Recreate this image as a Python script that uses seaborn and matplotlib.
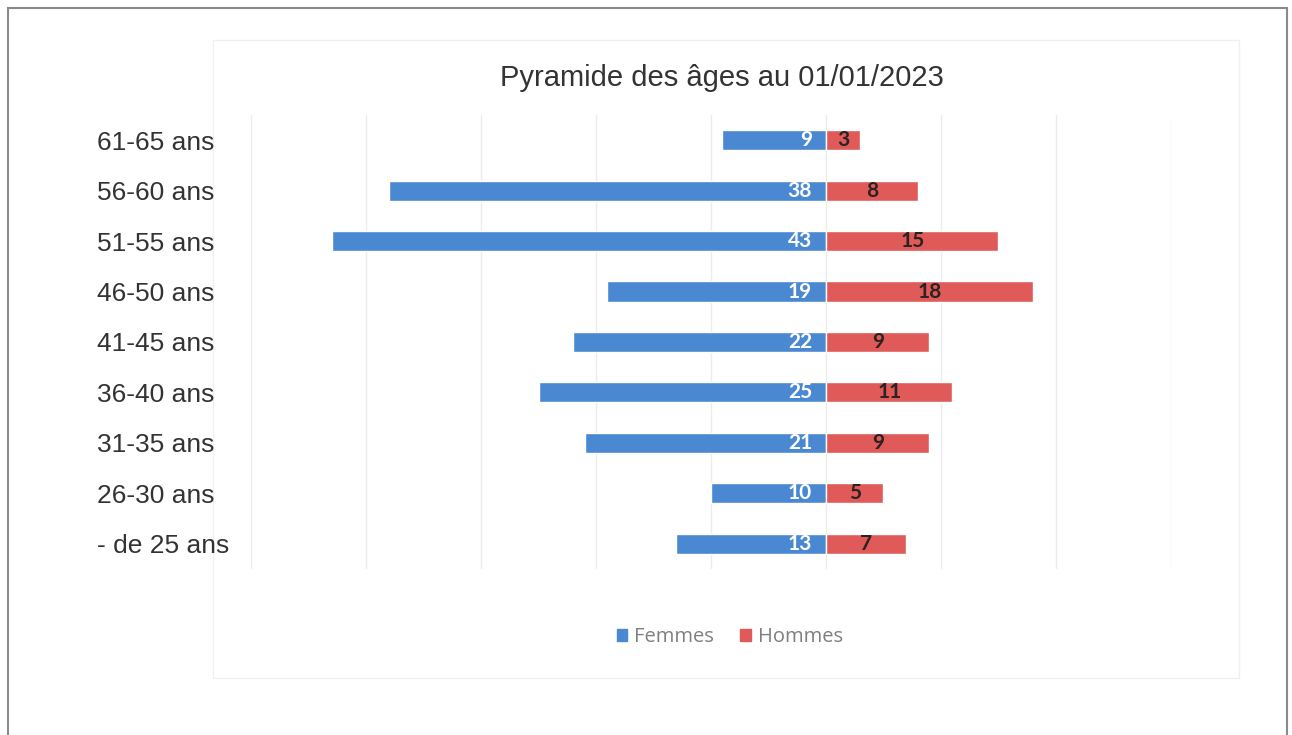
import seaborn as sns
import matplotlib
matplotlib.use('Agg')
import matplotlib.pyplot as plt
import pandas as pd
from matplotlib.patches import Patch, Rectangle

# data, top row first
age_groups = ['61-65 ans', '56-60 ans', '51-55 ans', '46-50 ans', '41-45 ans',
              '36-40 ans', '31-35 ans', '26-30 ans', '- de 25 ans']
femmes = [9, 38, 43, 19, 22, 25, 21, 10, 13]
hommes = [3, 8, 15, 18, 9, 11, 9, 5, 7]

blue = '#4a89d2'
red = '#df5a58'

sns.set_style('white')
plt.rcParams['font.family'] = ['Liberation Sans', 'DejaVu Sans']

df = pd.DataFrame({'Age': age_groups,
                   'Femmes': [-v for v in femmes],  # women to the left
                   'Hommes': hommes})

fig = plt.figure(figsize=(12.92, 7.35), dpi=100)
ax = fig.add_axes([0.1943, 0.2259, 0.7120, 0.6177])
ax.patch.set_alpha(0)  # let the faint chart box show behind

sns.barplot(data=df, x='Femmes', y='Age', order=age_groups, color=blue,
            width=0.4, orient='h', saturation=1, ax=ax)
sns.barplot(data=df, x='Hommes', y='Age', order=age_groups, color=red,
            width=0.4, orient='h', saturation=1, ax=ax)

ax.set_xlim(-50, 30)
ax.set_xticks(range(-50, 31, 10))
ax.set_xticklabels([])
ax.tick_params(axis='x', length=0)
ax.grid(axis='x', color='#ececec', linewidth=1)
ax.set_axisbelow(True)
for s in ax.spines.values():
    s.set_visible(False)
ax.set_xlabel('')
ax.set_ylabel('')

# category labels left aligned far out, like the excel chart
ax.tick_params(axis='y', length=0, pad=111, labelsize=19, labelcolor='#333333')
for lbl in ax.get_yticklabels():
    lbl.set_horizontalalignment('left')

# value labels: white at inner end for women, dark centered for men
for i, (f, h) in enumerate(zip(femmes, hommes)):
    ax.text(-1.2, i, str(f), ha='right', va='center', color='white',
            fontsize=15, fontweight='bold', family='Lato')
    ax.text(h / 2, i, str(h), ha='center', va='center', color='#2b2222',
            fontsize=15, fontweight='bold', family='Lato')

fig.text(0.559, 0.894, 'Pyramide des âges au 01/01/2023', ha='center', va='center',
         fontsize=21, color='#333333')

handles = [Patch(color=blue, label='Femmes'), Patch(color=red, label='Hommes')]
leg = fig.legend(handles=handles, loc='center', bbox_to_anchor=(0.565, 0.133), ncol=2,
                 frameon=False, handlelength=0.5, handleheight=0.55,
                 handletextpad=0.35, columnspacing=1.3,
                 prop={'family': 'Open Sans', 'size': 14.5})
for t in leg.get_texts():
    t.set_color('#7f7f7f')

# faint chart area box and outer page border, kept behind everything
fig.patches.append(Rectangle((213 / 1292, 1 - 678 / 735), 1026 / 1292, 638 / 735,
                             transform=fig.transFigure, fill=False, zorder=-5,
                             edgecolor='#f0f0f0', linewidth=1))
fig.patches.append(Rectangle((8 / 1292, -0.05), 1279 / 1292, 1.05 - 8 / 735,
                             transform=fig.transFigure, fill=False, zorder=-5,
                             edgecolor='#8a8a8a', linewidth=1.5))

fig.savefig('out.png', dpi=100)
plt.close(fig)
